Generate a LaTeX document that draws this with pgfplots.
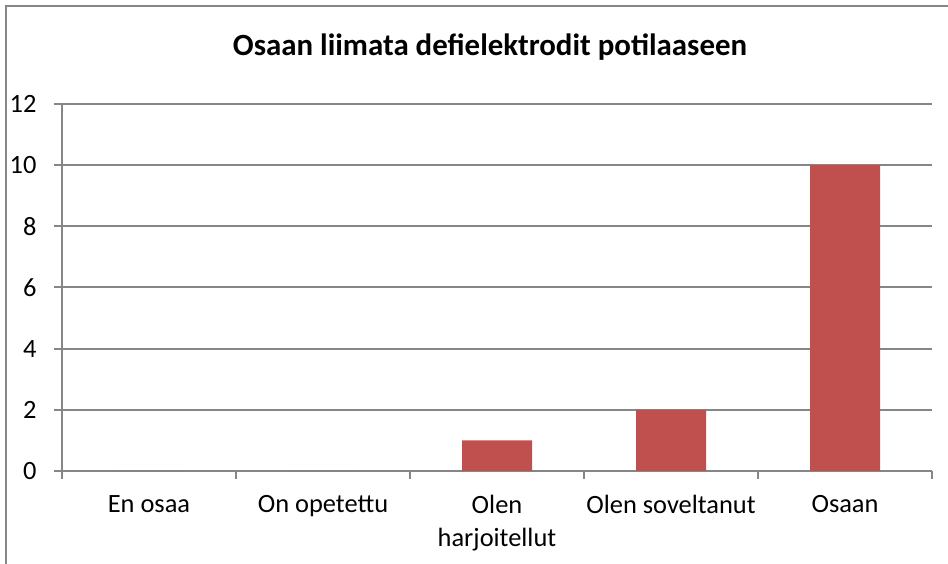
\documentclass[border=0pt]{standalone}
\usepackage{pgfplots}
\pgfplotsset{compat=1.18}
\usepackage{fontspec}
\setmainfont{Carlito}
\definecolor{barred}{HTML}{C0504D}
\definecolor{gridgray}{HTML}{868686}
\begin{document}
\begin{tikzpicture}[x=1bp,y=1bp]
\useasboundingbox (0,0) rectangle (948,564);
\draw[gridgray, line width=2bp] (6,0) -- (6,558) -- (948,558);
\node[font=\bfseries\fontsize{31}{36}\selectfont] at (490,517) {Osaan liimata defielektrodit potilaaseen};
\begin{axis}[
  at={(62bp,93bp)}, anchor=south west,
  width=870bp, height=367bp, scale only axis,
  xmin=-0.5, xmax=4.5, ymin=0, ymax=12,
  ytick={0,2,4,6,8,10,12},
  xtick={-0.5,0.5,1.5,2.5,3.5,4.5},
  xticklabels={En osaa, On opetettu, {Olen\\harjoitellut}, Olen soveltanut, Osaan},
  x tick label as interval,
  xticklabel style={align=center, yshift=-13bp},
  yticklabel style={xshift=-14bp},
  axis x line*=bottom, axis y line*=left,
  tick align=outside, major tick length=8bp,
  ymajorgrids,
  grid style={gridgray, line width=2bp},
  axis line style={gridgray, line width=2bp},
  tick style={gridgray, line width=2bp},
  tick label style={font=\fontsize{26.5}{33}\selectfont},
  /pgf/number format/assume math mode=true,
  ybar, bar width=70bp,
]
\addplot[fill=barred, draw=none] coordinates {(0,0) (1,0) (2,1) (3,2) (4,10)};
\end{axis}
\end{tikzpicture}
\end{document}
